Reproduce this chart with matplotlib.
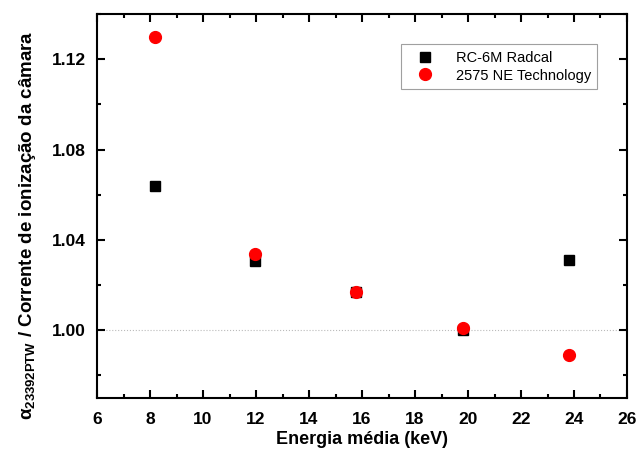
import numpy as np
import matplotlib
matplotlib.use('Agg')
import matplotlib.pyplot as plt
from matplotlib.ticker import MultipleLocator

plt.rcParams['font.family'] = ['Liberation Sans', 'DejaVu Sans']
plt.rcParams['mathtext.fontset'] = 'custom'
plt.rcParams['mathtext.rm'] = 'Liberation Sans'
plt.rcParams['mathtext.it'] = 'Liberation Sans:italic'

# data
energy = [8.19, 11.96, 15.77, 19.81, 23.81]
radcal = [1.0637, 1.0308, 1.0167, 1.000, 1.0312]
ne_tech = [1.1297, 1.0338, 1.0171, 1.001, 0.989]
series_names = ['RC-6M Radcal', '2575 NE Technology']

fig = plt.figure(figsize=(6.37, 4.5), dpi=100)
ax = fig.add_axes([0.1523, 0.1156, 0.832, 0.8533])

ax.axhline(1.0, color='#bbbbbb', linestyle=':', linewidth=0.8, zorder=1)
ax.plot(energy, radcal, linestyle='none', marker='s', markersize=7, color='k', label=series_names[0], zorder=3)
ax.plot(energy, ne_tech, linestyle='none', marker='o', markersize=8.5, color='#ff0000', label=series_names[1], zorder=3)

ax.set_xlim(6, 26)
ax.set_ylim(0.97, 1.14)
ax.xaxis.set_major_locator(MultipleLocator(2))
ax.xaxis.set_minor_locator(MultipleLocator(1))
ax.yaxis.set_major_locator(MultipleLocator(0.04))
ax.yaxis.set_minor_locator(MultipleLocator(0.02))
ax.yaxis.set_major_formatter(matplotlib.ticker.FormatStrFormatter('%.2f'))

for s in ax.spines.values():
    s.set_linewidth(1.5)
ax.tick_params(which='both', direction='in', top=True, right=True, width=1.5)
ax.tick_params(which='major', length=6, labelsize=12.5)
ax.tick_params(axis='y', which='major', pad=8)
ax.tick_params(axis='x', which='major', pad=10)
ax.tick_params(which='minor', length=3)
for lab in ax.get_xticklabels() + ax.get_yticklabels():
    lab.set_fontweight('bold')

ax.set_xlabel('Energia média (keV)', fontsize=13, fontweight='bold', labelpad=3)
ax.set_ylabel(r'α$_{\mathregular{23392PTW}}$ / Corrente de ionização da câmara', fontsize=13.5,
              fontweight='bold')
ax.yaxis.set_label_coords(-0.112, 0.45)

leg = ax.legend(loc='upper right', bbox_to_anchor=(0.958, 0.94), fontsize=10.5, frameon=True,
                fancybox=False, edgecolor='#888888', handletextpad=0.9, borderpad=0.45,
                labelspacing=0.25, handlelength=2.4)
leg.get_frame().set_linewidth(0.8)

fig.savefig('out.png', dpi=100)
plt.close('all')
